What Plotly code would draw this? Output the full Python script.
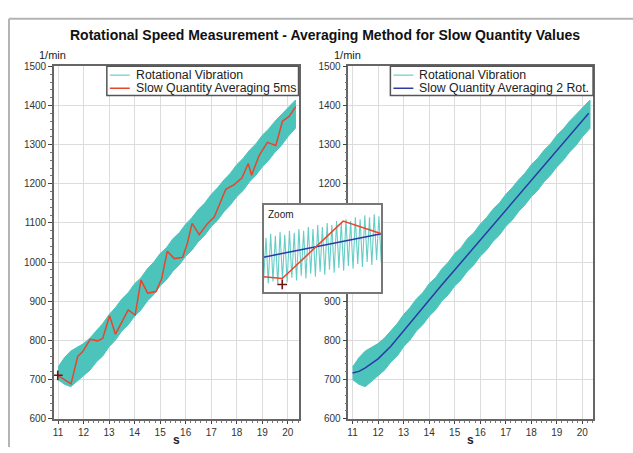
import plotly.graph_objects as go

W, H = 633, 453

# ---------------- data ----------------
x_ticks = [11, 12, 13, 14, 15, 16, 17, 18, 19, 20]
y_ticks = [600, 700, 800, 900, 1000, 1100, 1200, 1300, 1400, 1500]

# envelope of the rotational vibration signal (1/min)
band_x = [11.0, 11.25, 11.5, 11.75, 12.0, 12.25, 12.5, 12.75, 13.0, 13.25, 13.5, 13.75,
          14.0, 14.25, 14.5, 14.75, 15.0, 15.25, 15.5, 15.75, 16.0, 16.25, 16.5, 16.75,
          17.0, 17.25, 17.5, 17.75, 18.0, 18.25, 18.5, 18.75, 19.0, 19.25, 19.5, 19.75,
          20.0, 20.3]
band_upper = [732, 756, 773, 782, 792, 806, 826, 843, 866, 884, 906, 922,
              945, 960, 983, 1000, 1022, 1037, 1060, 1075, 1097, 1114, 1135, 1151,
              1173, 1190, 1210, 1227, 1249, 1265, 1286, 1302, 1324, 1340, 1360, 1377,
              1396, 1414]
band_lower = [700, 688, 682, 697, 710, 724, 745, 760, 784, 801, 824, 840,
              862, 878, 901, 917, 939, 955, 977, 993, 1015, 1031, 1053, 1069,
              1091, 1107, 1129, 1146, 1167, 1183, 1205, 1222, 1243, 1260, 1281, 1298,
              1320, 1342]

# slow quantity averaging 5 ms
avg5ms_x = [10.99, 11.51, 11.77, 11.96, 12.26, 12.55, 12.75, 13.02, 13.25, 13.75, 14.02,
            14.25, 14.51, 14.84, 15.06, 15.28, 15.55, 15.88, 16.07, 16.25, 16.53, 16.86,
            17.12, 17.38, 17.57, 17.9, 18.2, 18.45, 18.58, 18.88, 19.2, 19.53, 19.79,
            20.05, 20.31]
avg5ms_y = [711, 689, 759, 771, 803, 799, 805, 863, 816, 878, 865,
            954, 921, 925, 958, 1028, 1009, 1012, 1049, 1099, 1070, 1099,
            1115, 1157, 1186, 1198, 1215, 1252, 1222, 1273, 1306, 1298, 1360,
            1372, 1397]

# slow quantity averaging 2 rotations
avg2rot_x = [11.0, 11.25, 11.5, 11.75, 12.0, 12.5, 13.0, 13.5, 14.0, 14.5, 15.0, 15.5,
             16.0, 16.5, 17.0, 17.5, 18.0, 18.5, 19.0, 19.5, 20.0, 20.25]
avg2rot_y = [717, 721, 730, 741, 753, 785, 825, 864, 903, 942, 980, 1018,
             1056, 1094, 1132, 1170, 1208, 1246, 1284, 1322, 1360, 1380]

start_x = [10.99]
start_y = [711]

# zoom inset (time in ms, speed in 1/min)
inset_t = [0.0, 2.4, 4.7, 7.1, 9.4, 11.8, 14.2, 16.5, 18.9, 21.2, 23.6, 25.9, 28.3,
           30.7, 33.0, 35.4, 37.7, 40.1, 42.4, 44.8, 47.2, 49.5, 51.9, 54.2, 56.6,
           58.9, 61.3, 63.7, 66.0, 68.4, 70.7, 73.1, 75.4, 77.8, 80.2, 82.5, 84.9,
           87.2, 89.6, 91.9, 94.3, 96.7, 99.0, 101.4, 103.7, 106.1, 108.4, 110.8,
           113.2, 115.5, 117.9]
inset_vib = [692, 736, 689, 740, 691, 738, 688, 742, 693, 739, 690, 743, 695,
             741, 692, 745, 697, 743, 694, 747, 699, 745, 696, 749, 701,
             747, 698, 751, 703, 749, 700, 753, 705, 751, 702, 755, 707,
             753, 704, 757, 709, 755, 706, 759, 711, 757, 708, 760,
             713, 758, 710]
inset_red_t = [0.0, 18.7, 79.7, 118.0]
inset_red_y = [696, 694, 753, 740]
inset_blue_t = [0.0, 118.0]
inset_blue_y = [716, 740]
inset_mark_t = [18.7]
inset_mark_y = [688]

TEAL = "#4cc4bc"
RED = "#e8452b"
BLUE = "#2c3aa6"
MARK = "#6e1212"
FONT = "Liberation Sans"


def fx(p):
    return p / W


def fy(p):
    return 1 - p / H


fig = go.Figure()

for xa, ya in (("x", "y"), ("x2", "y2")):
    fig.add_trace(go.Scatter(
        x=band_x + band_x[::-1], y=band_upper + band_lower[::-1],
        fill="toself", fillcolor=TEAL, mode="lines",
        line=dict(color=TEAL, width=1), xaxis=xa, yaxis=ya,
        name="Rotational Vibration", showlegend=False, hoverinfo="skip"))

fig.add_trace(go.Scatter(x=avg5ms_x, y=avg5ms_y, mode="lines",
                         line=dict(color=RED, width=1.5), xaxis="x", yaxis="y",
                         name="Slow Quantity Averaging 5ms", showlegend=False))
fig.add_trace(go.Scatter(x=start_x, y=start_y, mode="markers",
                         marker=dict(symbol="cross-thin", size=7,
                                     line=dict(color=MARK, width=1.6)),
                         xaxis="x", yaxis="y", showlegend=False))
fig.add_trace(go.Scatter(x=avg2rot_x, y=avg2rot_y, mode="lines",
                         line=dict(color=BLUE, width=1.5), xaxis="x2", yaxis="y2",
                         name="Slow Quantity Averaging 2 Rot.", showlegend=False))

# inset
fig.add_trace(go.Scatter(x=inset_t, y=inset_vib, mode="lines",
                         line=dict(color="#66cdc6", width=1.1), xaxis="x3", yaxis="y3",
                         showlegend=False))
fig.add_trace(go.Scatter(x=inset_blue_t, y=inset_blue_y, mode="lines",
                         line=dict(color=BLUE, width=1.5), xaxis="x3", yaxis="y3",
                         showlegend=False))
fig.add_trace(go.Scatter(x=inset_red_t, y=inset_red_y, mode="lines",
                         line=dict(color=RED, width=1.5), xaxis="x3", yaxis="y3",
                         showlegend=False))
fig.add_trace(go.Scatter(x=inset_mark_t, y=inset_mark_y, mode="markers",
                         marker=dict(symbol="cross-thin", size=7,
                                     line=dict(color=MARK, width=1.6)),
                         xaxis="x3", yaxis="y3", showlegend=False))

common_x = dict(range=[10.84, 20.42], tickvals=x_ticks, ticks="outside", ticklen=3,
                tickcolor="#444", tickfont=dict(size=10, color="#333", family=FONT),
                showgrid=True, gridcolor="#dcdcdc", gridwidth=1, zeroline=False,
                showline=True, mirror=True, linecolor="#666", linewidth=1.5,
                minor=dict(dtick=0.2, tick0=11, ticks="outside", ticklen=2,
                           tickcolor="#777", showgrid=False))
common_y = dict(range=[600, 1500], tickvals=y_ticks, ticks="outside", ticklen=4,
                tickcolor="#444", tickfont=dict(size=10, color="#333", family=FONT),
                showgrid=True, gridcolor="#dcdcdc", gridwidth=1, zeroline=False,
                showline=True, mirror=True, linecolor="#666", linewidth=1.5,
                minor=dict(dtick=20, tick0=600, ticks="outside", ticklen=2,
                           tickcolor="#777", showgrid=False))

ydom = [fy(424), fy(62)]
fig.update_layout(
    width=W, height=H, margin=dict(l=0, r=0, t=0, b=0), autosize=False,
    paper_bgcolor="white", plot_bgcolor="white", hovermode=False,
    font=dict(family=FONT, color="#222"),
    title=dict(text="Rotational Speed Measurement - Averaging Method for Slow Quantity Values",
               x=fx(325), xanchor="center", y=fy(35), yanchor="middle",
               font=dict(size=14, weight="bold", color="#111", family=FONT)),
    xaxis=dict(domain=[fx(53), fx(298)], anchor="y", **common_x),
    yaxis=dict(domain=ydom, anchor="x", **common_y),
    xaxis2=dict(domain=[fx(348), fx(593)], anchor="y2", **common_x),
    yaxis2=dict(domain=ydom, anchor="x2", **common_y),
    xaxis3=dict(domain=[fx(263), fx(381)], anchor="y3", range=[0, 118],
                showticklabels=False, ticks="", showgrid=False, zeroline=False,
                showline=True, mirror=True, linecolor="#777", linewidth=1.5),
    yaxis3=dict(domain=[fy(294), fy(204)], anchor="x3", range=[680, 770],
                showticklabels=False, ticks="", showgrid=False, zeroline=False,
                showline=True, mirror=True, linecolor="#777", linewidth=1.5),
    showlegend=False,
)

shapes = [
    # inset white background (drawn in inset subplot, above the main plots)
    dict(type="rect", xref="x3", yref="y3", x0=0, x1=118, y0=680, y1=770,
         fillcolor="white", line=dict(width=0), layer="below"),
    # outer frame
    dict(type="line", xref="paper", yref="paper", x0=fx(8), x1=fx(633), y0=fy(13), y1=fy(13),
         line=dict(color="#b4b4b4", width=2)),
    dict(type="line", xref="paper", yref="paper", x0=fx(8), x1=fx(8), y0=fy(13), y1=fy(453),
         line=dict(color="#b4b4b4", width=2)),
]

annotations = []


def legend_box(x0, x1, entries):
    shapes.append(dict(type="rect", xref="paper", yref="paper",
                       x0=fx(x0), x1=fx(x1), y0=fy(92), y1=fy(62),
                       fillcolor="white", line=dict(color="#555", width=1.5),
                       layer="above"))
    for i, (label, color) in enumerate(entries):
        yy = 71 + 13.5 * i
        shapes.append(dict(type="line", xref="paper", yref="paper",
                           x0=fx(x0 + 3), x1=fx(x0 + 23), y0=fy(yy), y1=fy(yy),
                           line=dict(color=color, width=1.5 if i else 1), layer="above"))
        annotations.append(dict(text=label, xref="paper", yref="paper",
                                x=fx(x0 + 27), y=fy(yy), xanchor="left", yanchor="middle",
                                showarrow=False, font=dict(size=12.3, color="#222", family=FONT)))


legend_box(106, 298, [("Rotational Vibration", TEAL), ("Slow Quantity Averaging 5ms", RED)])
legend_box(390, 593, [("Rotational Vibration", TEAL), ("Slow Quantity Averaging 2 Rot.", BLUE)])

for cx in (52, 347):
    annotations.append(dict(text="1/min", xref="paper", yref="paper", x=fx(cx), y=fy(50),
                            xanchor="center", yanchor="middle", showarrow=False,
                            font=dict(size=11, color="#222", family=FONT)))
for cx in (176, 470):
    annotations.append(dict(text="s", xref="paper", yref="paper", x=fx(cx), y=fy(446),
                            xanchor="center", yanchor="middle", showarrow=False,
                            font=dict(size=12, color="#222", family=FONT, weight="bold")))
annotations.append(dict(text="Zoom", xref="x3 domain", yref="y3 domain", x=0.02, y=0.97,
                        xanchor="left", yanchor="top", showarrow=False,
                        font=dict(size=10, color="#222", family=FONT)))

fig.update_layout(shapes=shapes, annotations=annotations)
fig.write_html("out.html",
               config={"displayModeBar": False, "responsive": False},
               post_script="document.body.style.margin='0';"
                           "document.body.style.overflow='hidden';")
